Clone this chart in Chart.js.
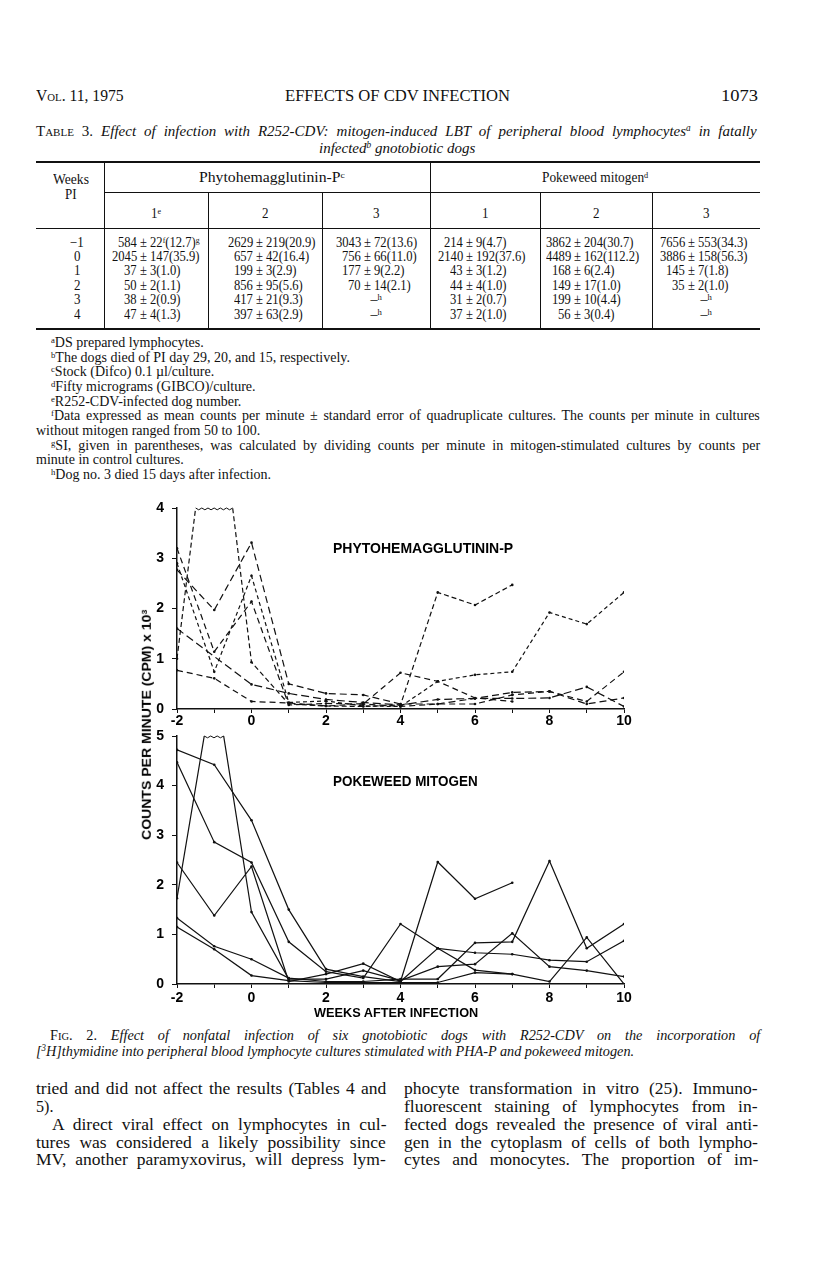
<!DOCTYPE html>
<html>
<head>
<meta charset="utf-8">
<title>Effects of CDV infection - Fig. 2</title>
<script src="https://cdn.jsdelivr.net/npm/chart.js@4.4.0/dist/chart.umd.min.js"></script>
<style>
body{ margin:0; background:#fff; }
#page{ position:relative; width:816px; height:1261px; overflow:hidden; background:#fff;
       font-family:"Liberation Serif", "DejaVu Serif", serif; color:#111; }
.t{ position:absolute; white-space:nowrap; transform-origin:0 50%; }
.sc{ font-variant:small-caps; }
.it{ font-style:italic; }
.sans{ font-family:"Liberation Sans", Arial, sans-serif; font-weight:bold; color:#000; }
.rule{ position:absolute; background:#111; }
sup{ font-size:0.62em; line-height:0; vertical-align:0.5em; }
canvas{ position:absolute; }
</style>
</head>
<body>
<div id="page">
  <canvas id="chartPha" width="530" height="240" style="left:120px;top:490px;"></canvas>
  <canvas id="chartPwm" width="530" height="300" style="left:120px;top:718px;"></canvas>
</div>
<script>
// ---- chart data (counts per minute x 10^3) ----
var weeks = [-2, -1, 0, 1, 2, 3, 4, 5, 6, 7, 8, 9, 10];

// phytohemagglutinin-P, six dogs (dashed). 7 = off the top of the scale (drawn broken)
var phaDog1 = [1.0, 7, 0.93, 0.10, 0.06, 0.05, 0.08, 2.32, 2.07, 2.47, null, null, null];
var phaDog2 = [3.2, 1.14, 2.14, 0.08, 0.11, 0.10, 0.72, 0.55, 0.22, 0.15, null, null, null];
var phaDog3 = [2.9, 0.74, 2.65, 0.13, 0.16, 0.06, 0.05, 0.55, 0.68, 0.74, 1.92, 1.69, 2.32];
var phaDog4 = [2.77, 1.97, 3.31, 0.50, 0.31, 0.28, 0.10, 0.10, 0.21, 0.33, 0.35, 0.10, 0.22];
var phaDog5 = [1.6, null, 0.49, 0.31, 0.19, 0.13, 0.08, 0.19, 0.21, 0.21, 0.22, 0.44, 0.05];
var phaDog6 = [0.77, 0.61, 0.15, 0.12, 0.06, 0.10, 0.05, 0.10, 0.10, 0.28, 0.35, 0.15, 0.74];

// pokeweed mitogen, six dogs (solid). 6.2 = off the top of the scale (drawn broken)
var pwmDog1 = [4.72, 4.42, 3.30, 1.50, 0.30, 0.15, 0.05, 2.46, 1.72, 2.04, null, null, null];
var pwmDog2 = [4.47, 2.86, 2.45, 0.85, 0.25, 0.12, 1.21, 0.72, 0.28, 0.20, null, null, null];
var pwmDog3 = [2.45, 1.38, 2.37, 0.05, 0.20, 0.41, 0.05, 0.72, 0.63, 0.60, 0.48, 0.45, 0.87];
var pwmDog4 = [1.73, 6.2, 1.45, 0.10, 0.10, 0.27, 0.07, 0.35, 0.40, 1.02, 0.35, 0.27, 0.15];
var pwmDog5 = [1.33, 0.76, 0.50, 0.12, 0.05, 0.05, 0.10, 0.10, 0.83, 0.85, 2.48, 0.72, 1.21];
var pwmDog6 = [1.15, 0.70, 0.17, 0.07, 0.03, 0.03, 0.03, 0.03, 0.23, 0.20, 0.05, 0.94, 0.00];

var phaMax = 4, pwmMax = 5;
var xTicks = [-2, 0, 2, 4, 6, 8, 10];

// ---- page text ----
var page = document.getElementById('page');
// 文字を置く。y は字の中心。o.w があればその幅に合わせる
var put = function(html, x, y, size, o){
	o = o || {};
	var d = document.createElement('div');
	d.className = 't' + (o.cls ? ' ' + o.cls : '');
	d.innerHTML = html;
	d.style.top = (y - size * 0.6) + 'px';
	d.style.fontSize = size + 'px';
	d.style.lineHeight = (size * 1.2) + 'px';
	page.appendChild(d);
	var base = o.base || 1;
	var nat = d.offsetWidth, w = nat * base;
	if( o.w ){
		if( o.just ){
			var spaces = (d.textContent.match(/ /g) || []).length;
			var need = o.w / base - nat;
			if( need > 0 && spaces ){
				d.style.wordSpacing = (need / spaces) + 'px';
				nat = d.offsetWidth;
			}
		}
		w = o.w;
	}
	d.style.transform = 'scaleX(' + (w / nat) + ')';
	var left = x;
	if( o.align === 'c' ){ left = x - w / 2; }
	if( o.align === 'r' ){ left = x - w; }
	d.style.left = left + 'px';
	return d;
};
var rule = function(x, y, w, h){
	var d = document.createElement('div');
	d.className = 'rule';
	d.style.left = x + 'px'; d.style.top = y + 'px';
	d.style.width = w + 'px'; d.style.height = h + 'px';
	page.appendChild(d);
};

// running head
put('<span class="sc">Vol.</span> 11, 1975', 36, 96, 16, { w: 88 });
put('EFFECTS OF CDV INFECTION', 397, 96, 16, { w: 225, align: 'c' });
put('1073', 758, 96, 17, { w: 37, align: 'r' });

// table 3
put('<span class="sc">Table</span> 3. <span class="it">Effect of infection with R252-CDV: mitogen-induced LBT of peripheral blood lymphocytes<sup>a</sup> in fatally</span>', 36, 131, 15, { w: 721, just: 1, base: 1.0 });
put('<span class="it">infected<sup>b</sup> gnotobiotic dogs</span>', 397, 148, 15, { align: 'c', base: 1.0 });

rule(36, 161, 724, 2);
rule(104, 192, 656, 1);
rule(36, 228, 724, 1);
rule(36, 328, 724, 2);
[104, 430].forEach(function(x){ rule(x, 162, 1, 167); });
[208, 322, 540, 652].forEach(function(x){ rule(x, 192, 1, 137); });

put('Weeks', 71, 180, 14, { w: 36, align: 'c' });
put('PI', 71, 195, 14, { align: 'c', base: 0.93 });
put('Phytohemagglutinin-P<sup>c</sup>', 272, 178, 14, { w: 146, align: 'c' });
put('Pokeweed mitogen<sup>d</sup>', 595, 178, 14, { w: 106, align: 'c' });
var colCenter = [156, 265, 376, 485, 596, 706];
var colPm = [141, 257, 365, 467, 575, 689];
['1<sup>e</sup>', '2', '3', '1', '2', '3'].forEach(function(s, i){ put(s, colCenter[i], 214, 14, { align: 'c', base: 0.93 }); });

var rowWeeks = ['-1', '0', '1', '2', '3', '4'];
var rowY = [243, 257, 271, 286, 300.5, 315];
var cells = [
	['584|22<sup>f</sup>(12.7)<sup>g</sup>', '2629|219(20.9)', '3043|72(13.6)', '214|9(4.7)', '3862|204(30.7)', '7656|553(34.3)'],
	['2045|147(35.9)', '657|42(16.4)', '756|66(11.0)', '2140|192(37.6)', '4489|162(112.2)', '3886|158(56.3)'],
	['37|3(1.0)', '199|3(2.9)', '177|9(2.2)', '43|3(1.2)', '168|6(2.4)', '145|7(1.8)'],
	['50|2(1.1)', '856|95(5.6)', '70|14(2.1)', '44|4(1.0)', '149|17(1.0)', '35|2(1.0)'],
	['38|2(0.9)', '417|21(9.3)', '-', '31|2(0.7)', '199|10(4.4)', '-'],
	['47|4(1.3)', '397|63(2.9)', '-', '37|2(1.0)', '56|3(0.4)', '-']
];
rowWeeks.forEach(function(w, r){
	put(w.replace('-', '\u2212'), 77, rowY[r], 14, { align: 'c', base: 0.93 });
	cells[r].forEach(function(c, i){
		if( c === '-' ){
			put('\u2013<sup>h</sup>', colCenter[i], rowY[r], 14, { align: 'c' });
			return;
		}
		var p = c.split('|');
		put(p[0], colPm[i] - 4, rowY[r], 14, { align: 'r', base: 0.9 });
		put('\u00b1 ' + p[1], colPm[i] - 1, rowY[r], 14, { base: 0.9 });
	});
});

// footnotes
var fnY = [343, 358, 372.5, 387, 402, 416.5, 446, 475];
var fnOpt = { base: 1.0 };
put('<sup>a</sup>DS prepared lymphocytes.', 51, fnY[0], 14, fnOpt);
put('<sup>b</sup>The dogs died of PI day 29, 20, and 15, respectively.', 51, fnY[1], 14, fnOpt);
put('<sup>c</sup>Stock (Difco) 0.1 \u00b5l/culture.', 51, fnY[2], 14, fnOpt);
put('<sup>d</sup>Fifty micrograms (GIBCO)/culture.', 51, fnY[3], 14, fnOpt);
put('<sup>e</sup>R252-CDV-infected dog number.', 51, fnY[4], 14, fnOpt);
put('<sup>f</sup>Data expressed as mean counts per minute \u00b1 standard error of quadruplicate cultures. The counts per minute in cultures', 51, fnY[5], 14, { w: 709, just: 1, base: 1.0 });
put('without mitogen ranged from 50 to 100.', 36, fnY[5] + 14.5, 14, fnOpt);
put('<sup>g</sup>SI, given in parentheses, was calculated by dividing counts per minute in mitogen-stimulated cultures by counts per', 51, fnY[6], 14, { w: 709, just: 1, base: 1.0 });
put('minute in control cultures.', 36, fnY[6] + 14.5, 14, fnOpt);
put('<sup>h</sup>Dog no. 3 died 15 days after infection.', 51, fnY[7], 14, fnOpt);

// figure labels
put('PHYTOHEMAGGLUTININ-P', 423, 548, 14, { cls: 'sans', w: 180, align: 'c' });
put('POKEWEED MITOGEN', 405, 781, 14, { cls: 'sans', w: 145, align: 'c' });
put('WEEKS AFTER INFECTION', 396, 1013, 13.5, { cls: 'sans', w: 164, align: 'c' });
var yTitle = put('COUNTS PER MINUTE (CPM) x 10<sup>3</sup>', 146, 725, 13, { cls: 'sans', w: 230, align: 'c' });
yTitle.style.transformOrigin = '50% 50%';
yTitle.style.transform = 'rotate(-90deg) ' + yTitle.style.transform;
yTitle.style.left = (146 - yTitle.offsetWidth / 2) + 'px';

// caption and body text
put('<span class="sc">Fig.</span> 2. <span class="it">Effect of nonfatal infection of six gnotobiotic dogs with R252-CDV on the incorporation of</span>', 50, 1035, 15, { w: 710, just: 1, base: 0.95 });
put('<span class="it">[<sup>3</sup>H]thymidine into peripheral blood lymphocyte cultures stimulated with PHA-P and pokeweed mitogen.</span>', 36, 1051, 15, { base: 0.95 });

var bodySize = 17.5, bodyBase = 1.0;
var leftCol = [
	['tried and did not affect the results (Tables 4 and', 1, 0],
	['5).', 0, 0],
	['A direct viral effect on lymphocytes in cul-', 1, 16],
	['tures was considered a likely possibility since', 1, 0],
	['MV, another paramyxovirus, will depress lym-', 1, 0]
];
var rightCol = [
	'phocyte transformation in vitro (25). Immuno-',
	'fluorescent staining of lymphocytes from in-',
	'fected dogs revealed the presence of viral anti-',
	'gen in the cytoplasm of cells of both lympho-',
	'cytes and monocytes. The proportion of im-'
];
var bodyY = [1088, 1106, 1124, 1142, 1159];
leftCol.forEach(function(l, i){
	if( l[1] ){ put(l[0], 36 + l[2], bodyY[i], bodySize, { w: 350 - l[2], just: 1, base: bodyBase }); }
	else { put(l[0], 36, bodyY[i], bodySize, { base: 0.92 }); }
});
rightCol.forEach(function(s, i){ put(s, 404, bodyY[i], bodySize, { w: 354, just: 1, base: bodyBase }); });

// ---- charts ----
var toPoints = function(vals){
	return weeks.map(function(w, i){ return { x: w, y: vals[i] }; });
};
var lineSet = function(vals, dash, brk){
	return {
		data: toPoints(vals),
		borderColor: '#111',
		borderWidth: 1.2,
		borderDash: dash,
		pointRadius: 1.3,
		pointBackgroundColor: '#111',
		pointBorderWidth: 0,
		spanGaps: true,
		tension: 0,
		breakAt: brk
	};
};

// 上に突き抜けた線の切れ目を波線で描く
var breakMarks = {
	id: 'breakMarks',
	afterDatasetsDraw: function(chart){
		var ctx = chart.ctx, top = chart.chartArea.top;
		chart.data.datasets.forEach(function(ds, i){
			if( ds.breakAt == null ){ return; }
			var pts = chart.getDatasetMeta(i).data, k = ds.breakAt;
			var a = pts[k - 1], b = pts[k], c = pts[k + 1];
			var x1 = a.x + (b.x - a.x) * (a.y - top) / (a.y - b.y);
			var x2 = b.x + (c.x - b.x) * (b.y - top) / (b.y - c.y);
			ctx.save();
			ctx.strokeStyle = '#111';
			ctx.lineWidth = 1;
			ctx.beginPath();
			ctx.moveTo(x1, top);
			var n = Math.max(2, Math.round((x2 - x1) / 3)), step = (x2 - x1) / n;
			for( var j = 1; j <= n; j++ ){
				ctx.lineTo(x1 + step * j, top + (j % 2 ? 1.8 : 0));
			}
			ctx.stroke();
			ctx.restore();
		});
	}
};

var tickFont = { family: 'Liberation Sans', weight: 'bold', size: 14 };
var makeChart = function(id, datasets, yMax, xHeight, tickPad){
	return new Chart(document.getElementById(id), {
		type: 'line',
		data: { datasets: datasets },
		plugins: [breakMarks],
		options: {
			responsive: false,
			animation: false,
			devicePixelRatio: 1,
			layout: { padding: { top: 18, right: 26, left: 0, bottom: 0 } },
			plugins: { legend: { display: false }, tooltip: { enabled: false }, title: { display: false } },
			scales: {
				x: {
					type: 'linear', min: -2, max: 10,
					afterFit: function(s){ s.height = xHeight; },
					afterBuildTicks: function(s){ s.ticks = weeks.map(function(w){ return { value: w }; }); },
					ticks: {
						autoSkip: false, maxRotation: 0, padding: tickPad, color: '#000', font: tickFont,
						callback: function(v){ return xTicks.indexOf(v) >= 0 ? String(v) : ''; }
					},
					grid: { drawOnChartArea: false, drawTicks: true, tickLength: 4, color: '#111', lineWidth: 1 },
					border: { display: true, color: '#111', width: 1.5 }
				},
				y: {
					min: 0, max: yMax,
					afterFit: function(s){ s.width = 57; },
					ticks: { stepSize: 1, padding: 8, color: '#000', font: tickFont },
					grid: { drawOnChartArea: false, drawTicks: true, tickLength: 5, color: '#111', lineWidth: 1 },
					border: { display: true, color: '#111', width: 1.5 }
				}
			}
		}
	});
};

makeChart('chartPha', [
	lineSet(phaDog1, [5, 3], 1),
	lineSet(phaDog2, [6, 4]),
	lineSet(phaDog3, [4, 3]),
	lineSet(phaDog4, [7, 4]),
	lineSet(phaDog5, [8, 4]),
	lineSet(phaDog6, [6, 4])
], phaMax, 21, 0);

makeChart('chartPwm', [
	lineSet(pwmDog1, []),
	lineSet(pwmDog2, []),
	lineSet(pwmDog3, []),
	lineSet(pwmDog4, [], 1),
	lineSet(pwmDog5, []),
	lineSet(pwmDog6, [])
], pwmMax, 34, 2);
</script>
</body>
</html>
